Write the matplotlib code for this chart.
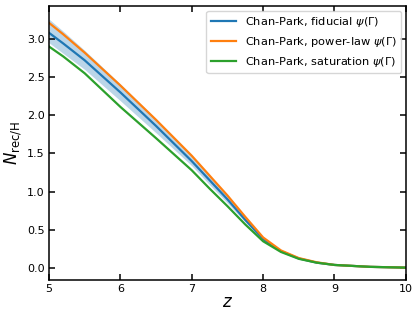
import matplotlib
matplotlib.use('Agg')
import matplotlib.pyplot as plt

# redshift grid and recombinations per H atom
z = [5.0, 5.2, 5.5, 6.0, 6.5, 7.0, 7.25, 7.5, 7.75, 8.0, 8.25, 8.5, 8.75, 9.0, 9.5, 10.0]
n_fiducial = [3.08, 2.94, 2.72, 2.30, 1.86, 1.40, 1.15, 0.90, 0.63, 0.38, 0.22, 0.125, 0.07, 0.04, 0.015, 0.005]
n_powerlaw = [3.21, 3.06, 2.82, 2.39, 1.94, 1.47, 1.21, 0.95, 0.67, 0.40, 0.23, 0.13, 0.075, 0.04, 0.015, 0.005]
n_saturation = [2.90, 2.77, 2.55, 2.11, 1.70, 1.28, 1.04, 0.81, 0.57, 0.35, 0.21, 0.12, 0.07, 0.04, 0.015, 0.005]
band_lo = [2.95, 2.81, 2.60, 2.19, 1.77, 1.34, 1.09, 0.85, 0.60, 0.36, 0.21, 0.12, 0.07, 0.04, 0.015, 0.005]
band_hi = [3.26, 3.10, 2.85, 2.41, 1.95, 1.47, 1.21, 0.95, 0.67, 0.40, 0.23, 0.13, 0.075, 0.04, 0.015, 0.005]

fig = plt.figure(figsize=(4.15, 3.12), dpi=100)
ax = fig.add_axes([0.118, 0.1026, 0.860, 0.878])

ax.fill_between(z, band_lo, band_hi, color='#1f77b4', alpha=0.3, lw=0)
ax.plot(z, n_fiducial, color='#1f77b4', lw=1.6, label=r'Chan-Park, fiducial $\psi(\Gamma)$')
ax.plot(z, n_powerlaw, color='#ff7f0e', lw=1.6, label=r'Chan-Park, power-law $\psi(\Gamma)$')
ax.plot(z, n_saturation, color='#2ca02c', lw=1.6, label=r'Chan-Park, saturation $\psi(\Gamma)$')

ax.set_xlim(5, 10)
ax.set_ylim(-0.157, 3.43)
ax.set_xticks([5, 6, 7, 8, 9, 10])
ax.set_yticks([0.0, 0.5, 1.0, 1.5, 2.0, 2.5, 3.0])
ax.set_xlabel(r'$z$', fontsize=12, labelpad=-1)
ax.set_ylabel(r'$N_{\rm rec/H}$', fontsize=12, labelpad=2)
ax.tick_params(direction='in', top=True, right=True, length=4, width=1.1, labelsize=8, pad=3)
for s in ax.spines.values():
    s.set_linewidth(1.1)

ax.legend(loc='upper right', fontsize=8.2, handlelength=2.2, borderaxespad=0.4)

plt.savefig('out.png', dpi=100)
plt.close()
